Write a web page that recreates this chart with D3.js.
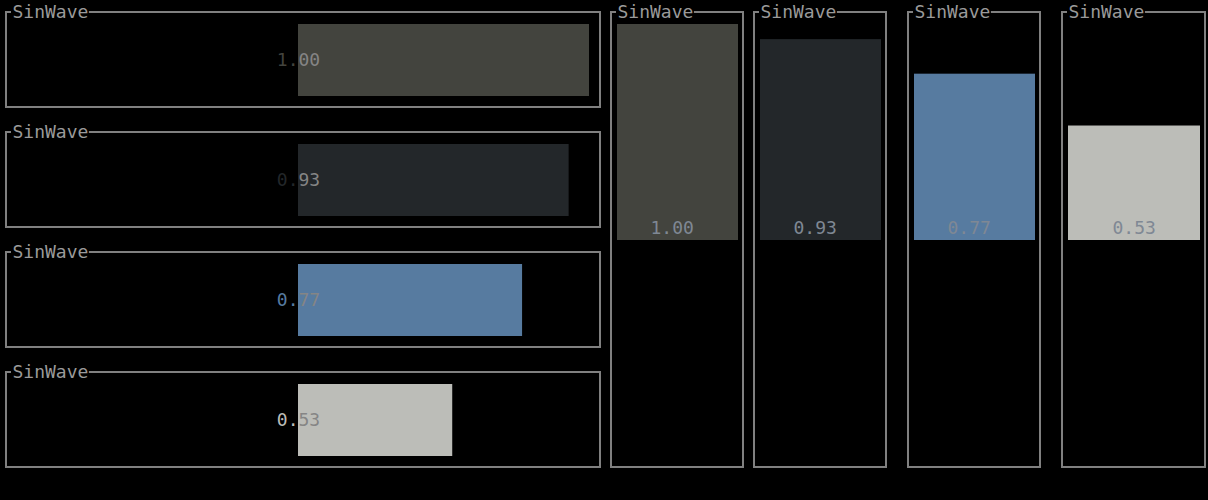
<!DOCTYPE html>
<html>
<head>
<meta charset="utf-8">
<script src="https://cdn.jsdelivr.net/npm/d3@7"></script>
<style>
  html, body { margin: 0; padding: 0; background: #000; }
  svg { display: block; }
  text { font-family: "DejaVu Sans Mono", "Liberation Mono", monospace; font-size: 18px; }
</style>
</head>
<body>
<svg id="chart" width="1208" height="500"></svg>
<script>
// ---- data ----
const titles = ["SinWave", "SinWave", "SinWave", "SinWave"];
const values = [1.00, 0.93, 0.77, 0.53];
const labels = ["1.00", "0.93", "0.77", "0.53"];
const palette = ["#43443e", "#23272a", "#577ba0", "#bcbdb8"];

// ---- layout ----
const W = 1208, H = 500;
const CW = 10.84;            // monospace character width
const borderColor = "#808080";
const titleColor = "#9a9a9a";
const svg = d3.select("#chart");
svg.append("rect").attr("width", W).attr("height", H).attr("fill", "#000");

let clipId = 0;
function panel(x0, y0, x1, y1, title) {
  const g = svg.append("g");
  g.append("rect").attr("x", x0).attr("y", y0).attr("width", x1 - x0).attr("height", y1 - y0)
    .attr("fill", "none").attr("stroke", borderColor).attr("stroke-width", 2);
  const tw = title.length * CW;
  g.append("rect").attr("x", x0 + 5).attr("y", y0 - 4).attr("width", tw + 2).attr("height", 8).attr("fill", "#000");
  g.append("text").attr("x", x0 + 6.5).attr("y", y0 + 6).attr("fill", titleColor).text(title);
}

function twoToneLabel(g, text, cx, baseline, outColor, inColor, bx, by, bw, bh) {
  g.append("text").attr("x", cx).attr("y", baseline).attr("text-anchor", "start")
    .attr("fill", outColor).text(text);
  const id = "clip" + (clipId++);
  svg.append("clipPath").attr("id", id).append("rect")
    .attr("x", bx).attr("y", by).attr("width", bw).attr("height", bh);
  g.append("text").attr("x", cx).attr("y", baseline).attr("text-anchor", "start")
    .attr("clip-path", `url(#${id})`).attr("fill", inColor).text(text);
}

// ---- horizontal bar panels (left) ----
const rowBand = d3.scaleBand().domain(d3.range(values.length)).range([0, 480]);
const xH = d3.scaleLinear().domain([0, 1]).range([298, 589]);
values.forEach((v, i) => {
  const top = rowBand(i);
  panel(6, top + 12, 600, top + 107, titles[i]);
  const g = svg.append("g");
  const bx = xH(0), by = top + 24, bw = xH(v) - xH(0), bh = 72;
  g.append("rect").attr("x", bx).attr("y", by).attr("width", bw).attr("height", bh).attr("fill", palette[i]);
  twoToneLabel(g, labels[i], bx - 2 * CW + 0.5, top + 66, palette[i], "#858585", bx, by, bw, bh);
});

// ---- vertical bar panels (right) ----
const vPanels = [[611, 743], [754, 886], [908, 1040], [1062, 1205]];
const yV = d3.scaleLinear().domain([0, 1]).range([240, 24]);
values.forEach((v, i) => {
  const [x0, x1] = vPanels[i];
  panel(x0, 12, x1, 467, titles[i]);
  const g = svg.append("g");
  const bx = x0 + 6, bw = (x1 - 5) - bx;
  g.append("rect").attr("x", bx).attr("y", yV(v)).attr("width", bw).attr("height", yV(0) - yV(v))
    .attr("fill", palette[i]);
  const cols = Math.round(bw / 11);
  const lx = bx + Math.floor((cols - labels[i].length) / 2) * 11 + 0.5;
  g.append("text").attr("x", lx).attr("y", 234).attr("fill", "#7f8894").text(labels[i]);
});
</script>
</body>
</html>
